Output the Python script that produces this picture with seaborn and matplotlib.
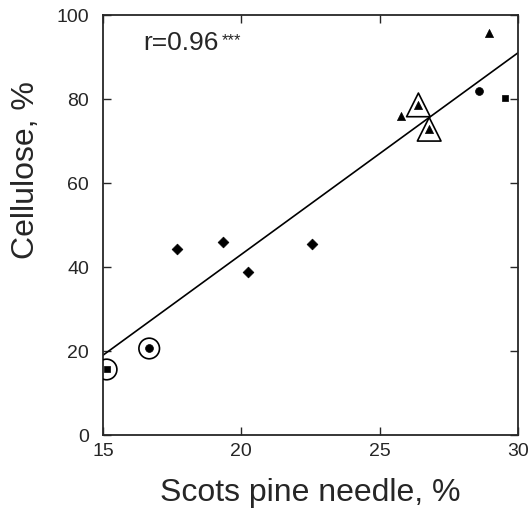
import numpy as np
import pandas as pd
import matplotlib
matplotlib.use("Agg")
import matplotlib.pyplot as plt
import seaborn as sns

# -----------------------
# Data
# -----------------------

needle = [15.13, 29.52, 16.67, 28.6, 17.67, 19.35, 20.23, 22.54, 25.78, 26.4, 26.79, 28.95]
cellulose = [15.6, 80.3, 20.6, 82.0, 44.3, 45.9, 38.9, 45.5, 76.0, 78.6, 72.8, 95.6]
group = ["square", "square", "circle", "circle",
         "diamond", "diamond", "diamond", "diamond",
         "triangle", "triangle", "triangle", "triangle"]
ringed = [True, False, True, False, False, False, False, False, False, True, True, False]

fit_slope = 4.8
fit_intercept = -53.0
r_label = "r=0.96"
x_ticks = [15, 20, 25, 30]
y_ticks = [0, 20, 40, 60, 80, 100]

df = pd.DataFrame({"needle": needle, "cellulose": cellulose,
                   "group": group, "ringed": ringed})

# -----------------------
# Figure
# -----------------------

sns.set_style("ticks")
plt.rcParams["font.family"] = ["Liberation Sans", "DejaVu Sans"]

fig = plt.figure(figsize=(5.29, 5.08), dpi=100)
ax = fig.add_axes([103 / 529, 1 - 435 / 508, 415 / 529, 420 / 508])

markers = {"square": "s", "circle": "o", "diamond": "D", "triangle": "^"}
sizes = {"square": 22, "circle": 32, "diamond": 30, "triangle": 34}

for g, sub in df.groupby("group"):
    sns.scatterplot(x="needle", y="cellulose", data=sub, marker=markers[g],
                    s=sizes[g], color="black", edgecolor="black",
                    linewidth=0.5, ax=ax, legend=False, zorder=3)

# open rings around highlighted points
ring = df[df["ringed"]]
for g, sub in ring.groupby("group"):
    mk = "^" if g == "triangle" else "o"
    sz = 290 if g == "triangle" else 220
    sns.scatterplot(x="needle", y="cellulose", data=sub, marker=mk, s=sz,
                    facecolor="none", edgecolor="black", linewidth=1.2,
                    ax=ax, legend=False, zorder=3)

# regression line
xs = np.array([x_ticks[0], x_ticks[-1]])
sns.lineplot(x=xs, y=fit_intercept + fit_slope * xs, color="black",
             linewidth=1.2, ax=ax, zorder=2)

ax.text(16.44, 93.3, r_label, fontsize=19, va="center", ha="left")
ax.text(19.3, 93.8, "***", fontsize=12, va="center", ha="left")

ax.set_xlim(15, 30)
ax.set_ylim(0, 100)
ax.set_xticks(x_ticks)
ax.set_yticks(y_ticks)
ax.tick_params(direction="in", length=6, width=1.0, labelsize=14,
               top=True, right=True)
ax.tick_params(axis="x", pad=6)
ax.tick_params(axis="y", pad=10)
for sp in ax.spines.values():
    sp.set_linewidth(1.3)

ax.set_xlabel("Scots pine needle, %", fontsize=23)
ax.set_ylabel("Cellulose, %", fontsize=23)
ax.xaxis.set_label_coords(0.5, -0.102)
ax.yaxis.set_label_coords(-0.15, 0.63)

fig.savefig("out.png", dpi=100)
plt.close(fig)
